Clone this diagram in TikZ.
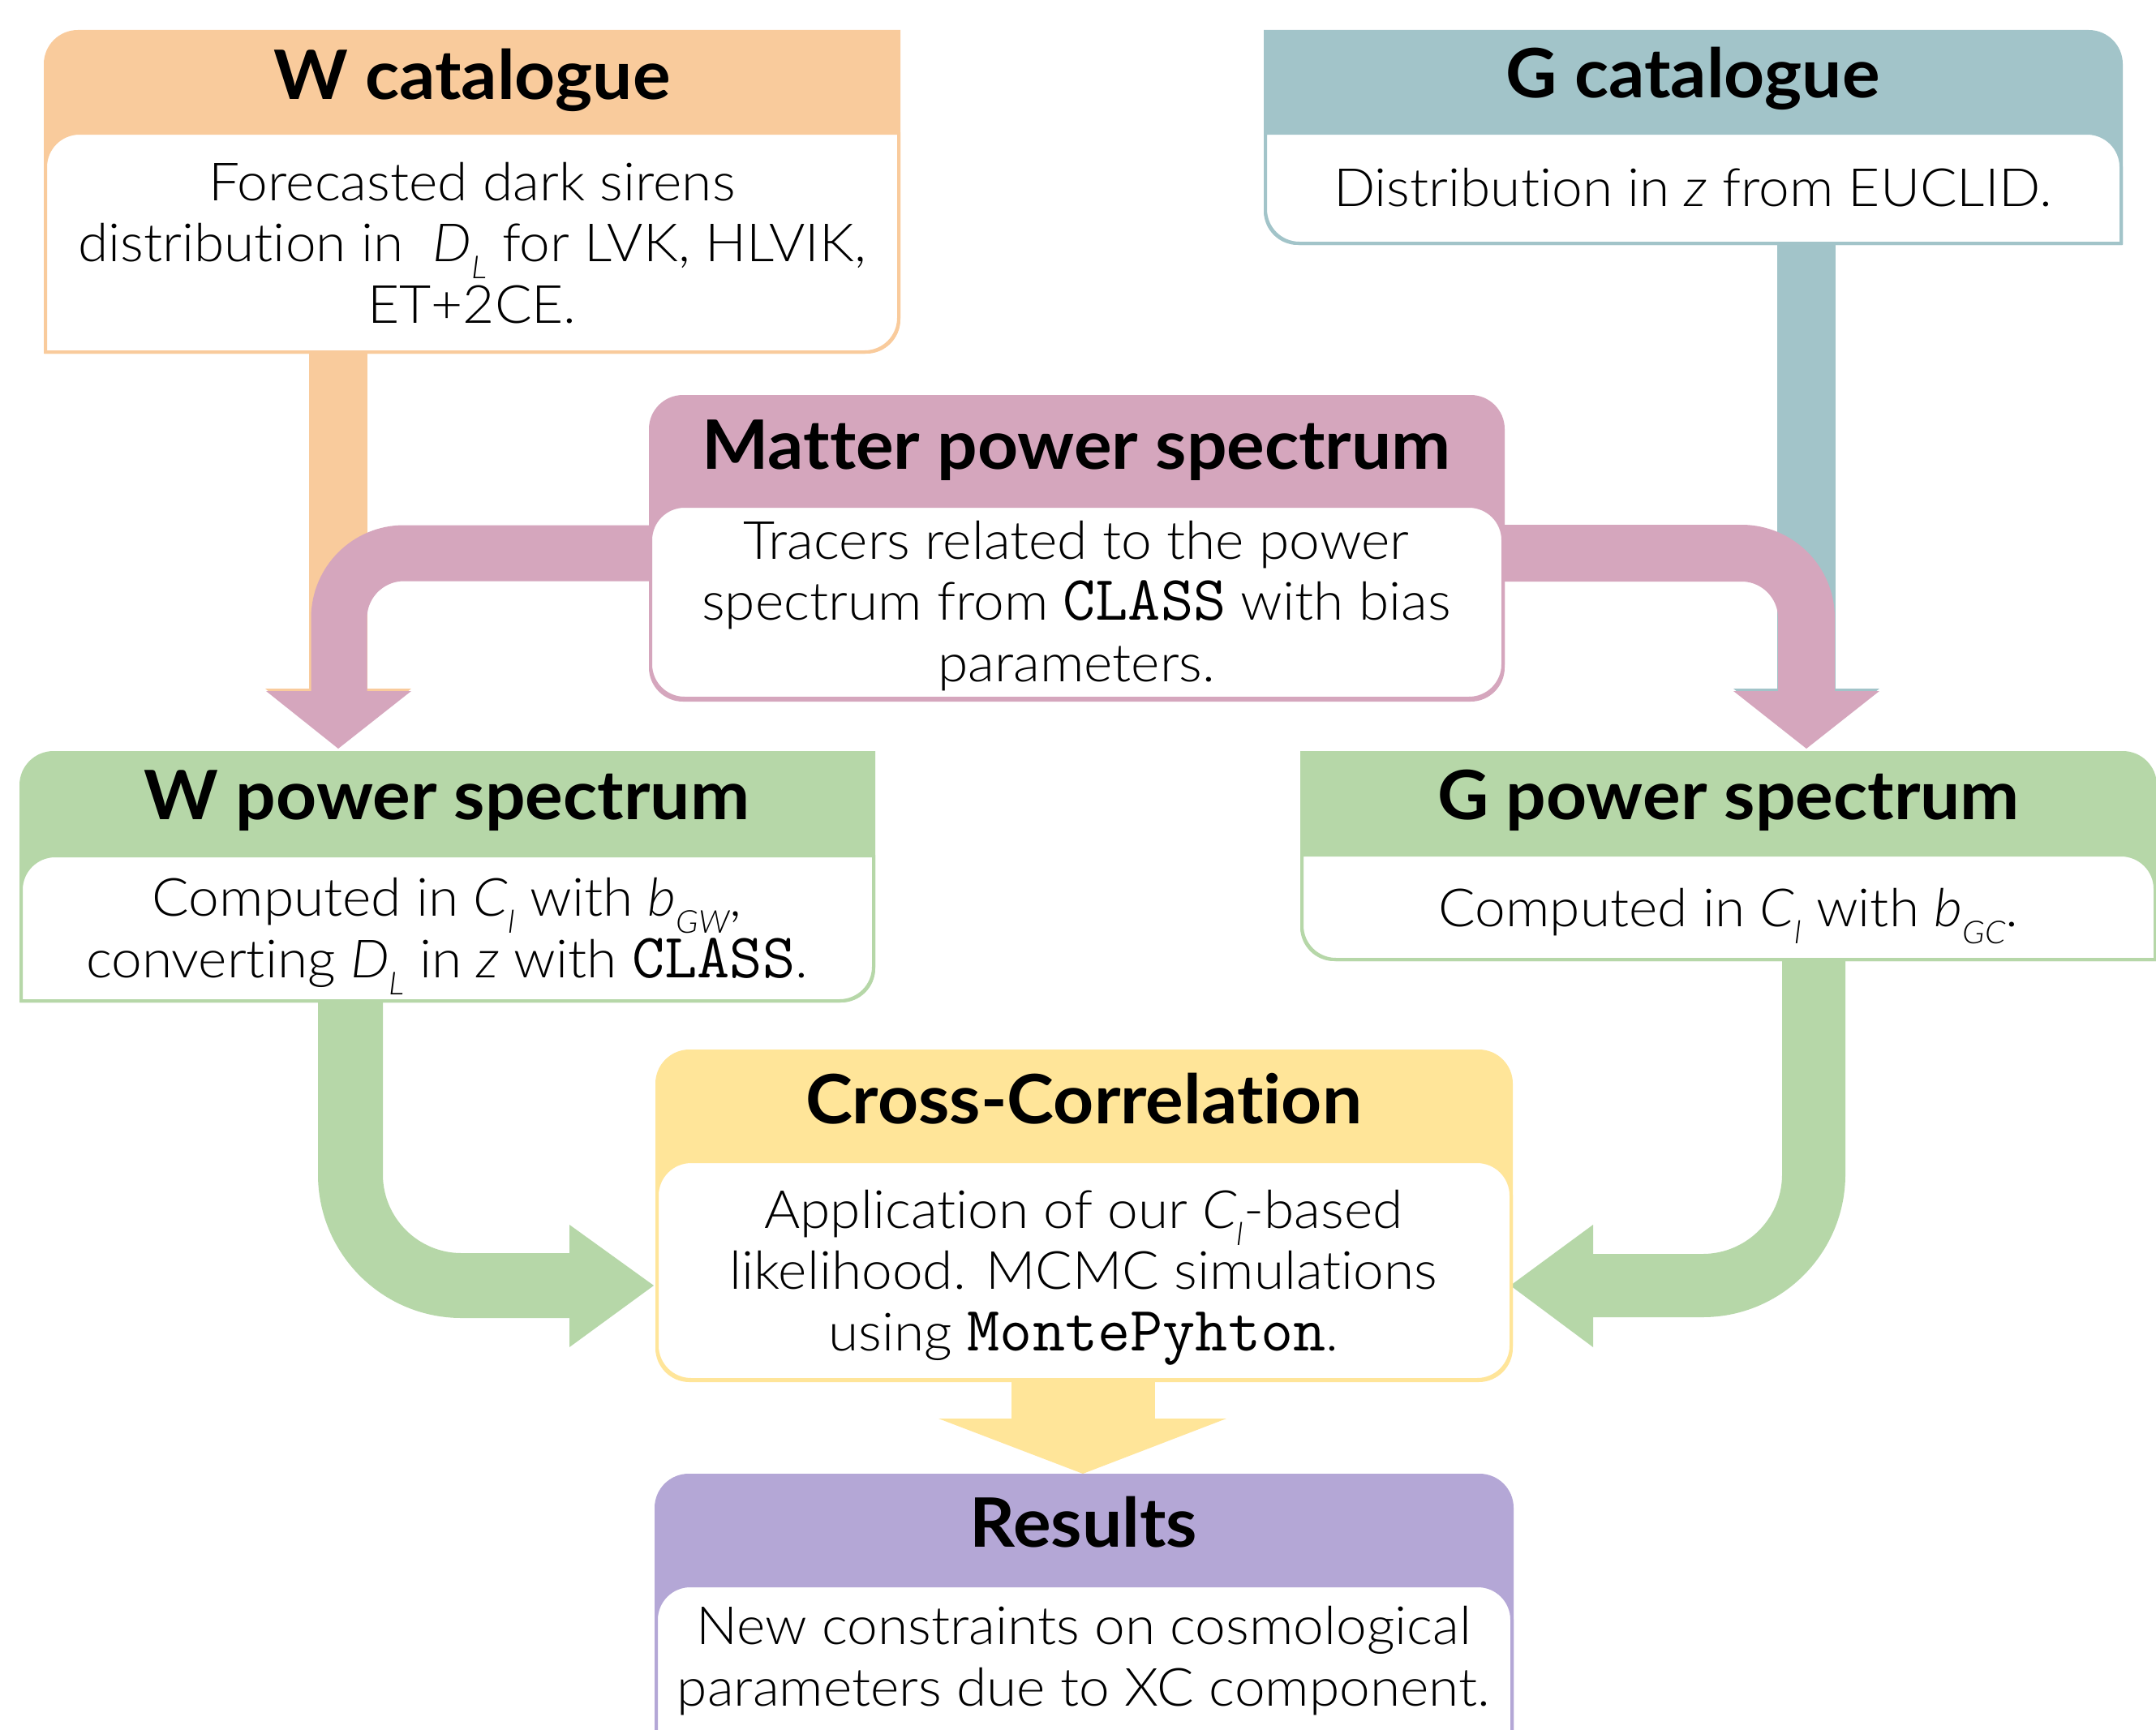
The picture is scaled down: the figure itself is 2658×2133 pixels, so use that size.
\documentclass[tikz,border=0pt]{standalone}
\usepackage{fontspec}
\setmainfont{Lato}[UprightFont={* Light}, ItalicFont={* Light Italic}, BoldFont={* Bold}, BoldItalicFont={* Bold Italic}, FakeStretch=1.04, Ligatures=NoCommon]
\newfontfamily\ttlfont{Lato}[UprightFont={* Bold}, FakeStretch=1.04, Ligatures=NoCommon]
\definecolor{cOrange}{HTML}{F9CB9C}
\definecolor{cTeal}{HTML}{A2C4C9}
\definecolor{cPink}{HTML}{D5A6BD}
\definecolor{cGreen}{HTML}{B6D7A8}
\definecolor{cYellow}{HTML}{FFE599}
\definecolor{cPurple}{HTML}{B4A7D6}
\newcommand\lsub[1]{\raisebox{-0.33em}{\fontsize{39}{39}\selectfont\itshape #1}}
\newcommand\cls{{\fontsize{78}{78}\selectfont\ttfamily CLASS}}
\newcommand\mpy{{\fontsize{78}{78}\selectfont\ttfamily MontePyhton}}
% \rrbox[style]{x1}{yTop}{x2}{yBottom}{rTL}{rTR}{rBR}{rBL}
\newcommand\rrbox[9][]{\path[#1] (#2,#3-#6) arc[start angle=180,end angle=90,radius=#6] -- (#4-#7,#3) arc[start angle=90,end angle=0,radius=#7] -- (#4,#5+#8) arc[start angle=0,end angle=-90,radius=#8] -- (#2+#9,#5) arc[start angle=270,end angle=180,radius=#9] -- cycle;}
\tikzset{
  ttl/.style={font=\ttlfont\fontsize{84}{84}\selectfont, anchor=base, inner sep=0pt},
  bdy/.style={font=\fontsize{65}{75.5}\selectfont, anchor=base, inner sep=0pt, align=center},
  area/.style={draw=none, fill=none, inner sep=0pt},
  band/.style={line cap=butt, line join=miter},
}
\begin{document}
\begin{tikzpicture}[x=1pt,y=1pt]
\useasboundingbox (0,0) rectangle (2658,-2133);
\clip (0,0) rectangle (2658,-2133);
\fill[white] (0,0) rectangle (2658,-2133);

% invisible box areas (for anchors)
\node[area, minimum width=1056pt, minimum height=399pt] (wcat) at (582,-236.5) {};
\node[area, minimum width=1059pt, minimum height=265pt] (gcat) at (2087.5,-169.5) {};
\node[area, minimum width=1055pt, minimum height=378pt] (matter) at (1327.5,-676) {};
\node[area, minimum width=1055pt, minimum height=310pt] (wpow) at (551.5,-1081) {};
\node[area, minimum width=1056pt, minimum height=259pt] (gpow) at (2131,-1055.5) {};
\node[area, minimum width=1057pt, minimum height=410pt] (cross) at (1336.5,-1499) {};
\node[area, minimum width=1059pt, minimum height=383pt] (res) at (1336.5,-2008.5) {};

% connector end points
\coordinate (oEnd) at (417,-852);
\coordinate (pLturn) at (418,-682);
\coordinate (pLend) at (418,-853);
\coordinate (tEnd) at (2227,-852);
\coordinate (pRturn) at (2227,-682);
\coordinate (pRend) at (2227,-853);
\coordinate (gLturn) at (432,-1585);
\coordinate (gLend) at (703,-1585);
\coordinate (gRturn) at (2236,-1585);
\coordinate (gRend) at (1963,-1585);
\coordinate (yEnd) at (1335,-1750);

% orange arrow (W catalogue -> W power spectrum)
\draw[band, cOrange, line width=72pt] ([xshift=-165pt]wcat.south) -- (oEnd);
\fill[cOrange] (327,-849) -- (507,-849) -- (417,-921) -- cycle;
% teal arrow (G catalogue -> G power spectrum)
\draw[band, cTeal, line width=72pt] ([xshift=139.5pt]gcat.south) -- (tEnd);
\fill[cTeal] (2137,-849) -- (2317,-849) -- (2227,-921) -- cycle;
% pink arrows (matter -> both)
\draw[band, cPink, line width=69pt, rounded corners=80pt] (matter.west |- pLturn) -- (pLturn) -- (pLend);
\fill[cPink] (328,-852) -- (507,-852) -- (417,-923) -- cycle;
\draw[band, cPink, line width=70pt, rounded corners=80pt] (matter.east |- pRturn) -- (pRturn) -- (pRend);
\fill[cPink] (2137,-852) -- (2317,-852) -- (2227,-923) -- cycle;
% green arrows (power spectra -> cross-correlation)
\draw[band, cGreen, line width=80pt, rounded corners=137pt] ([xshift=-119.5pt]wpow.south) -- (gLturn) -- (gLend);
\fill[cGreen] (702,-1510) -- (702,-1661) -- (806,-1585) -- cycle;
\draw[band, cGreen, line width=78pt, rounded corners=137pt] ([xshift=105pt]gpow.south) -- (gRturn) -- (gRend);
\fill[cGreen] (1964,-1510) -- (1964,-1661) -- (1862,-1585) -- cycle;
% yellow arrow (cross -> results)
\draw[band, cYellow, line width=177pt] (cross.south -| yEnd) -- (yEnd);
\fill[cYellow] (1157,-1749) -- (1512,-1749) -- (1335,-1817) -- cycle;

% ---- boxes ----
% W catalogue
\rrbox[fill=cOrange]{54}{-37}{1110}{-436}{42}{0.01}{42}{0.01}
\rrbox[fill=white, draw=cOrange, line width=4pt]{56}{-164}{1108}{-434}{42}{0.01}{42}{0.01}
% G catalogue
\rrbox[fill=cTeal]{1558}{-37}{2617}{-302}{0.01}{42}{0.01}{42}
\rrbox[fill=white, draw=cTeal, line width=4pt]{1560}{-164}{2615}{-300}{0.01}{42}{0.01}{42}
% Matter
\rrbox[fill=cPink]{800}{-487}{1855}{-865}{42}{42}{42}{42}
\rrbox[fill=white, draw=cPink, line width=4pt]{802}{-624}{1853}{-861}{42}{42}{42}{42}
% W power spectrum
\rrbox[fill=cGreen]{24}{-926}{1079}{-1236}{42}{0.01}{42}{0.01}
\rrbox[fill=white, draw=cGreen, line width=4pt]{26}{-1055}{1077}{-1234}{42}{0.01}{42}{0.01}
% G power spectrum
\rrbox[fill=cGreen]{1603}{-926}{2659}{-1185}{0.01}{42}{0.01}{42}
\rrbox[fill=white, draw=cGreen, line width=4pt]{1605}{-1054}{2657}{-1183}{0.01}{42}{0.01}{42}
% Cross-correlation
\rrbox[fill=cYellow]{808}{-1294}{1865}{-1704}{42}{42}{42}{42}
\rrbox[fill=white, draw=cYellow, line width=4pt]{810}{-1432}{1863}{-1701}{42}{42}{42}{42}
% Results
\rrbox[fill=cPurple]{807}{-1817}{1866}{-2200}{42}{42}{42}{42}
\rrbox[fill=white, draw=cPurple, line width=4pt]{809}{-1955}{1864}{-2197}{42}{42}{42}{42}

% ---- texts (multi-line nodes are placed at their last baseline) ----
\node[ttl] (wcatT) at (582,-122) {W catalogue};
\node[bdy] (wcatB) at (582,-398) {Forecasted dark sirens\\distribution in\ \ \textit{D}\lsub{L}\ for LVK, HLVIK,\\ET+2CE.};
\node[ttl] (gcatT) at (2087,-120) {G catalogue};
\node[bdy] (gcatB) at (2087,-254) {Distribution in \textit{z} from EUCLID.};
\node[ttl] (matterT) at (1327,-578) {Matter power spectrum};
\node[bdy] (matterB) at (1327,-840) {Tracers related to the power\\spectrum from \cls{} with bias\\parameters.};
\node[ttl] (wpowT) at (551,-1010) {W power spectrum};
\node[bdy] (wpowB) at (551,-1205) {Computed in \textit{C}\lsub{l} with \textit{b}\lsub{GW},\\converting \textit{D}\lsub{L} in \textit{z} with \cls.};
\node[ttl] (gpowT) at (2131,-1010) {G power spectrum};
\node[bdy] (gpowB) at (2131,-1142) {Computed in \textit{C}\lsub{l} with \textit{b}\lsub{GC}.};
\node[ttl] (crossT) at (1336,-1385) {Cross-Correlation};
\node[bdy] (crossB) at (1336,-1665) {Application of our \textit{C}\lsub{l}-based\\likelihood. MCMC simulations\\using \mpy.};
\node[ttl] (resT) at (1336,-1907) {Results};
\node[bdy] (resB) at (1336,-2103) {New constraints on cosmological\\parameters due to XC component.};
\end{tikzpicture}
\end{document}
